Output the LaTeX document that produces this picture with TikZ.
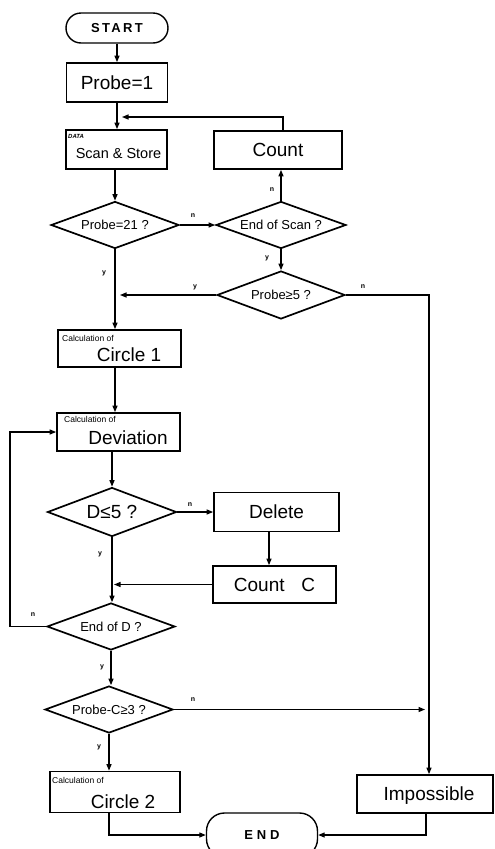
\documentclass[tikz,border=0pt]{standalone}
\usepackage{fontspec}
\setmainfont{Liberation Sans}
\newfontfamily\spacedfont[LetterSpace=18]{Liberation Sans}
\newfontfamily\widefont[LetterSpace=30]{Liberation Sans}
\usetikzlibrary{shapes.geometric,arrows.meta,calc}
\begin{document}
\begin{tikzpicture}[x=1pt,y=-1pt,
  box/.style={draw, line width=1.7pt, inner sep=0pt},
  dia/.style={draw, diamond, aspect=2.7, line width=1.7pt, inner sep=0pt},
  term/.style={draw, line width=1.4pt, inner sep=0pt},
  big/.style={font=\fontsize{19}{22}\selectfont},
  med/.style={font=\fontsize{13}{15}\selectfont},
  tiny/.style={font=\fontsize{8.5}{9}\selectfont, inner sep=0pt},
  lab/.style={font=\bfseries\fontsize{7}{8}\selectfont, inner sep=0pt},
  conn/.style={line width=1.25pt},
  arr/.style={conn, -{Triangle[length=6.5pt,width=5pt]}},
]
\useasboundingbox (0,0) rectangle (495,849);

% nodes
\node[term, rounded corners=15pt, minimum width=102pt, minimum height=30pt, font=\spacedfont\bfseries\fontsize{13}{15}\selectfont] (start) at (117,28) {START};
\node[box, minimum width=101pt, minimum height=39pt, big] (p1) at (117,82.5) {Probe=1};
\node[box, minimum width=101pt, minimum height=39pt] (scan) at (116.5,149.5) {};
\node[font=\bfseries\itshape\fontsize{6}{7}\selectfont, inner sep=0pt, anchor=north west] (scand) at (68,134) {DATA};
\node[font=\fontsize{14.5}{17}\selectfont] (scant) at (118.5,154) {Scan \& Store};
\node[box, minimum width=128pt, minimum height=38pt, big] (cnt) at (278,150) {Count};

\node[dia, minimum width=128pt, minimum height=47pt, med] (q21) at (115,225) {Probe=21 ?};
\node[dia, minimum width=130pt, minimum height=47pt, med] (qscan) at (281,225) {End of Scan ?};
\node[dia, minimum width=128pt, minimum height=48pt, med] (q5) at (281,295) {Probe≥5 ?};

\node[box, minimum width=123pt, minimum height=37pt] (c1) at (119.5,348.5) {};
\node[tiny, anchor=north west] (c1s) at (62,335) {Calculation of};
\node[big] (c1t) at (129,355) {Circle 1};

\node[box, minimum width=123pt, minimum height=38pt] (dev) at (118.5,432) {};
\node[tiny, anchor=north west] (devs) at (64,416) {Calculation of};
\node[big] (devt) at (128,438) {Deviation};

\node[dia, minimum width=129pt, minimum height=49pt, big] (qle) at (112,512) {D≤5 ?};
\node[box, minimum width=125pt, minimum height=39pt, big] (del) at (276.5,512) {Delete};
\node[box, minimum width=123pt, minimum height=37pt, big] (cc) at (274.5,584.5) {Count\hspace{0.6em} C};

\node[dia, minimum width=128pt, minimum height=47pt, med] (qd) at (111,626.5) {End of D ?};
\node[dia, minimum width=128pt, minimum height=47pt, med] (qpc) at (109,709.5) {Probe-C≥3 ?};

\node[box, minimum width=130pt, minimum height=41pt] (c2) at (115,792) {};
\node[tiny, anchor=north west] (c2s) at (52,777) {Calculation of};
\node[big] (c2t) at (123,802) {Circle 2};

\node[box, minimum width=136pt, minimum height=38pt] (imp) at (425,794) {};
\node[big] (impt) at (429,796) {Impossible};
\node[term, rounded corners=18pt, minimum width=111pt, minimum height=44pt, font=\widefont\bfseries\fontsize{13}{15}\selectfont] (endn) at (262,835) {END};

% connectors
\draw[arr] (start.south) -- (start.south |- p1.north);
\draw[arr] (p1.south) -- (p1.south |- scan.north);
\coordinate (fb) at (122,117);
\draw[arr] ([xshift=5pt]cnt.north) |- (fb);
\draw[arr] (q21.north |- scan.south) -- (q21.north);
\draw[arr] (q21.east) -- (qscan.west);
\draw[arr] (qscan.north) -- (qscan.north |- cnt.south);
\draw[arr] (qscan.south) -- (q5.north);
\coordinate (yin) at (120,295);
\draw[arr] (q5.west) -- (yin);
\draw[arr] (q21.south) -- (q21.south |- c1.north);
\draw[arr] (q5.east) -| ([xshift=4pt]imp.north);
\draw[arr] (q21.south |- c1.south) -- (q21.south |- dev.north);
\draw[arr] (qle.north |- dev.south) -- (qle.north);
\draw[arr] (qle.east) -- (del.west);
\draw[arr] ([xshift=-7.5pt]del.south) -- ([xshift=-7.5pt]del.south |- cc.north);
\coordinate (ccin) at (114,584.5);
\draw[arr] (cc.west) -- (ccin);
\draw[arr] (qle.south) -- (qle.south |- qd.north);
\coordinate (lp) at (10,626.5);
\draw[arr] (qd.west) -- (lp) |- (dev.west);
\draw[arr] (qd.south) -- (qd.south |- qpc.north);
\coordinate (nin) at (425,709.5);
\draw[arr] (qpc.east) -- (nin);
\draw[arr] (qpc.south) -- (qpc.south |- c2.north);
\draw[arr] (qpc.south |- c2.south) |- (endn.west);
\draw[arr] ([xshift=1pt]imp.south) |- (endn.east);

% branch labels
\node[lab] (l1) at (193,216) {n};
\node[lab] (l2) at (272,190) {n};
\node[lab] (l3) at (267,258) {y};
\node[lab] (l4) at (104,273) {y};
\node[lab] (l5) at (195,287) {y};
\node[lab] (l6) at (363,287) {n};
\node[lab] (l7) at (190,505) {n};
\node[lab] (l8) at (100,554) {y};
\node[lab] (l9) at (33,615) {n};
\node[lab] (l10) at (102,667) {y};
\node[lab] (l11) at (193,700) {n};
\node[lab] (l12) at (99,747) {y};
\end{tikzpicture}
\end{document}
